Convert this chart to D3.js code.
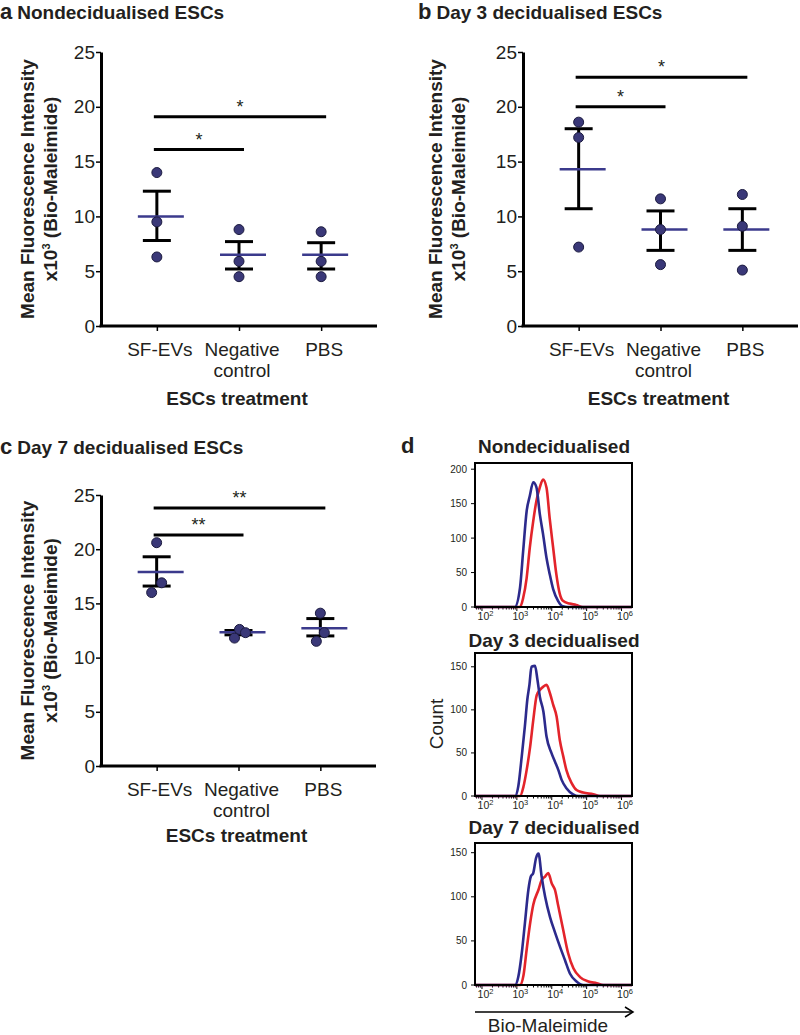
<!DOCTYPE html>
<html>
<head>
<meta charset="utf-8">
<script src="https://cdn.jsdelivr.net/npm/d3@7"></script>
<style>
  body { margin: 0; background: #fff; }
  text { font-family: Arial, "Liberation Sans", sans-serif; fill: #231f20; }
</style>
</head>
<body>
<svg id="fig" width="800" height="1035"></svg>
<script>
// treatment groups on the x axis
const groups = ["SF-EVs", "Negative control", "PBS"];
const yTickVals = [0, 5, 10, 15, 20, 25];

// panel a - nondecidualised ESCs (x10^3 MFI)
const aPoints = [[14.0, 9.5, 6.3], [8.8, 5.9, 4.5], [8.6, 5.9, 4.5]];
const aMeans = [10.0, 6.5, 6.5];
const aSemLow = [7.8, 5.2, 5.2];
const aSemHigh = [12.3, 7.7, 7.6];
const aSig = [[0, 1, 16.1, "*"], [0, 2, 19.1, "*"]];

// panel b - day 3 decidualised
const bPoints = [[18.6, 17.2, 7.2], [11.6, 8.8, 5.6], [12.0, 9.1, 5.1]];
const bMeans = [14.3, 8.8, 8.8];
const bSemLow = [10.7, 6.9, 6.9];
const bSemHigh = [18.0, 10.5, 10.7];
const bSig = [[0, 1, 20.0, "*"], [0, 2, 22.7, "*"]];

// panel c - day 7 decidualised
const cPoints = [[20.6, 16.9, 16.0], [12.6, 12.3, 11.8], [14.1, 12.3, 11.5]];
const cMeans = [17.9, 12.35, 12.7];
const cSemLow = [16.6, 12.1, 12.0];
const cSemHigh = [19.3, 12.5, 13.6];
const cSig = [[0, 1, 21.3, "**"], [0, 2, 23.8, "**"]];

// panel d - flow histograms, [log10 intensity, count]
const ndBlue = [[1.8,0],[2.94,0],[3.09,28],[3.18,81],[3.28,139],[3.37,161],[3.47,181],[3.56,174],[3.66,134],[3.75,106],[3.85,71],[3.94,48],[4.04,26],[4.18,9],[4.32,1],[4.45,0],[6.3,0]];
const ndRed = [[1.8,0],[3.09,0],[3.18,13],[3.28,42],[3.37,86],[3.47,125],[3.56,154],[3.66,174],[3.75,185],[3.85,173],[3.94,129],[4.04,86],[4.13,48],[4.23,19],[4.32,9],[4.51,5],[4.70,3],[4.89,0],[6.3,0]];
const d3Blue = [[1.8,0],[2.95,0],[3.04,11],[3.14,46],[3.23,81],[3.30,112],[3.36,129],[3.42,150],[3.52,151],[3.59,135],[3.66,115],[3.76,98],[3.85,69],[3.99,50],[4.09,40],[4.19,30],[4.28,19],[4.42,9],[4.61,2],[4.76,0],[6.3,0]];
const d3Red = [[1.8,0],[3.09,0],[3.19,11],[3.28,30],[3.38,57],[3.47,88],[3.57,117],[3.66,123],[3.76,127],[3.85,129],[3.95,119],[4.04,106],[4.14,92],[4.23,65],[4.33,46],[4.42,30],[4.57,15],[4.71,7],[4.90,4],[5.19,2],[5.38,0],[6.3,0]];
const d7Blue = [[1.8,0],[2.95,0],[3.04,9],[3.14,36],[3.23,70],[3.33,108],[3.40,123],[3.47,127],[3.55,144],[3.62,149],[3.71,123],[3.81,100],[3.95,77],[4.09,60],[4.24,43],[4.38,28],[4.52,13],[4.71,4],[4.90,0],[6.3,0]];
const d7Red = [[1.8,0],[3.09,0],[3.19,11],[3.28,40],[3.38,70],[3.47,91],[3.62,108],[3.71,119],[3.81,123],[3.90,127],[4.00,115],[4.09,108],[4.19,89],[4.33,62],[4.47,36],[4.62,19],[4.81,9],[5.05,4],[5.29,2],[5.48,0],[6.3,0]];

const svg = d3.select("#fig");
const dotFill = "#3a3878", meanColor = "#3b3a8c";
const fs = 19; // main font size
// small sideways shift of overlapping dots (px), panel c only
const cJitter = [[0, 5, -5], [1, 7, -4], [0, 4, -4]];

function scatterPanel(o) {
  const x = d3.scalePoint().domain(groups).range([o.x0, o.x1]).padding(0.68);
  const y = d3.scaleLinear().domain([0, 25]).range([o.yBot, o.yTop]);
  const g = svg.append("g");

  // title
  const t = g.append("text").attr("x", o.titleX).attr("y", o.titleY).attr("font-weight", "bold");
  t.append("tspan").attr("font-size", 22).text(o.letter);
  t.append("tspan").attr("font-size", fs).attr("dx", 5).text(o.title);

  // y axis
  const ya = g.append("g").attr("transform", `translate(${o.x0},0)`)
    .call(d3.axisLeft(y).tickValues(yTickVals).tickSize(5).tickSizeOuter(0).tickPadding(1));
  ya.select(".domain").attr("stroke", "#000").attr("stroke-width", 3);
  ya.selectAll(".tick line").attr("stroke", "#000").attr("stroke-width", 1.5);
  ya.selectAll(".tick text").attr("font-size", fs).attr("fill", "#231f20").attr("font-family", "Arial, 'Liberation Sans', sans-serif");

  // x axis
  const xa = g.append("g").attr("transform", `translate(0,${o.yBot})`)
    .call(d3.axisBottom(x).tickSize(5).tickSizeOuter(0).tickFormat(""));
  xa.select(".domain").attr("stroke", "#000").attr("stroke-width", 3).attr("d", `M${o.x0 - 1.5},0H${o.x1}`);
  xa.selectAll(".tick line").attr("stroke", "#000").attr("stroke-width", 1.5);

  groups.forEach(name => {
    const lab = g.append("text").attr("text-anchor", "middle").attr("font-size", fs)
      .attr("x", x(name) + 3).attr("y", o.yBot + 30);
    name.split(" ").forEach((w, j) => {
      lab.append("tspan").attr("x", x(name) + 3).attr("dy", j ? 21 : 0).text(w);
    });
  });
  g.append("text").attr("text-anchor", "middle").attr("font-size", fs).attr("font-weight", "bold")
    .attr("x", x(groups[1]) - 2).attr("y", o.yBot + o.xTitleGap).text("ESCs treatment");

  // y label
  const yl = g.append("text").attr("text-anchor", "middle").attr("font-size", fs).attr("font-weight", "bold")
    .attr("transform", `translate(${o.labX},${(o.yTop + o.yBot) / 2}) rotate(-90)`);
  yl.append("tspan").attr("x", 0).attr("y", 0).text("Mean Fluorescence Intensity");
  const l2 = yl.append("tspan").attr("x", 0).attr("y", 23);
  l2.append("tspan").text("x10");
  l2.append("tspan").attr("font-size", 11).attr("dy", -7).text("3");
  l2.append("tspan").attr("dy", 7).text(" (Bio-Maleimide)");

  // error bars and mean lines
  groups.forEach((name, i) => {
    const cx = x(name);
    g.append("line").attr("x1", cx).attr("x2", cx).attr("y1", y(o.lo[i])).attr("y2", y(o.hi[i]))
      .attr("stroke", "#000").attr("stroke-width", 3);
    [o.lo[i], o.hi[i]].forEach(v => {
      g.append("line").attr("x1", cx - 14).attr("x2", cx + 14).attr("y1", y(v)).attr("y2", y(v))
        .attr("stroke", "#000").attr("stroke-width", 3);
    });
    g.append("line").attr("x1", cx - 19).attr("x2", cx + 27).attr("y1", y(o.means[i])).attr("y2", y(o.means[i]))
      .attr("stroke", meanColor).attr("stroke-width", 2.5);
  });

  // dots
  groups.forEach((name, i) => {
    g.selectAll(null).data(o.points[i]).join("circle")
      .attr("cx", (d, j) => x(name) + (o.jitter ? o.jitter[i][j] : 0))
      .attr("cy", d => y(d)).attr("r", 5)
      .attr("fill", dotFill).attr("stroke", "#1c1b3f").attr("stroke-width", 1);
  });

  // significance bars
  o.sig.forEach(([a, b, v, s]) => {
    const xa0 = x(groups[a]) - 3, xb = x(groups[b]) + 5;
    g.append("line").attr("x1", xa0).attr("x2", xb).attr("y1", y(v)).attr("y2", y(v))
      .attr("stroke", "#000").attr("stroke-width", 3);
    g.append("text").attr("text-anchor", "middle").attr("font-size", 18)
      .attr("x", (xa0 + xb) / 2).attr("y", y(v) - 4).text(s);
  });
}

scatterPanel({letter: "a", title: "Nondecidualised ESCs", titleX: 0, titleY: 19,
  x0: 101, x1: 377, yTop: 52, yBot: 326, labX: 34, xTitleGap: 79,
  points: aPoints, means: aMeans, lo: aSemLow, hi: aSemHigh, sig: aSig});
scatterPanel({letter: "b", title: "Day 3 decidualised ESCs", titleX: 418, titleY: 19,
  x0: 523, x1: 798, yTop: 52, yBot: 326, labX: 442, xTitleGap: 79,
  points: bPoints, means: bMeans, lo: bSemLow, hi: bSemHigh, sig: bSig});
scatterPanel({letter: "c", title: "Day 7 decidualised ESCs", titleX: 0, titleY: 454,
  x0: 101, x1: 376, yTop: 495, yBot: 766, labX: 34, xTitleGap: 76,
  points: cPoints, means: cMeans, lo: cSemLow, hi: cSemHigh, sig: cSig, jitter: cJitter});

// panel d
svg.append("text").attr("x", 401).attr("y", 453).attr("font-size", 22).attr("font-weight", "bold").text("d");

const hx = d3.scaleLog().domain([10 ** 1.8, 10 ** 6.3]).range([475, 632]);

function histPanel(o) {
  const y = d3.scaleLinear().domain([0, o.yMax]).range([o.bot, o.top]);
  const g = svg.append("g");
  g.append("text").attr("text-anchor", "middle").attr("font-size", fs).attr("font-weight", "bold")
    .attr("x", 554).attr("y", o.titleY).text(o.title);

  // minor and major x ticks
  const minor = hx.ticks().filter(v => v >= 10 ** 1.8);
  g.selectAll(null).data(minor).join("line")
    .attr("x1", d => hx(d)).attr("x2", d => hx(d)).attr("y1", o.bot)
    .attr("y2", d => o.bot + (Math.abs(Math.log10(d) % 1) < 1e-6 ? 4 : 2.5))
    .attr("stroke", "#000").attr("stroke-width", 1);
  [2, 3, 4, 5, 6].forEach(e => {
    const t = g.append("text").attr("text-anchor", "middle").attr("font-size", 10.5).attr("fill", "#444")
      .attr("x", hx(10 ** e) + 3.5).attr("y", o.bot + 13);
    t.append("tspan").text("10");
    t.append("tspan").attr("font-size", 7.5).attr("dy", -4).text(e);
  });

  // y ticks
  o.yTicks.forEach(v => {
    g.append("line").attr("x1", 471).attr("x2", 475).attr("y1", y(v)).attr("y2", y(v))
      .attr("stroke", "#000").attr("stroke-width", 1);
    g.append("text").attr("text-anchor", "end").attr("font-size", 10).attr("fill", "#444")
      .attr("x", 467).attr("y", y(v) + 3.5).text(v);
  });

  const line = d3.line().x(d => hx(10 ** d[0])).y(d => y(d[1])).curve(d3.curveMonotoneX);
  g.append("path").datum(o.red).attr("d", line).attr("fill", "none")
    .attr("stroke", "#e3242b").attr("stroke-width", 2.6);
  g.append("path").datum(o.blue).attr("d", line).attr("fill", "none")
    .attr("stroke", "#2c2a8c").attr("stroke-width", 2.6);

  g.append("rect").attr("x", 475).attr("y", o.top).attr("width", 157).attr("height", o.bot - o.top)
    .attr("fill", "none").attr("stroke", "#000").attr("stroke-width", 2);
}

histPanel({title: "Nondecidualised", titleY: 453, top: 463, bot: 607, yMax: 209,
  yTicks: [0, 50, 100, 150, 200], blue: ndBlue, red: ndRed});
histPanel({title: "Day 3 decidualised", titleY: 647, top: 653, bot: 796, yMax: 166,
  yTicks: [0, 50, 100, 150], blue: d3Blue, red: d3Red});
histPanel({title: "Day 7 decidualised", titleY: 834, top: 843, bot: 985, yMax: 161,
  yTicks: [0, 50, 100, 150], blue: d7Blue, red: d7Red});

svg.append("text").attr("text-anchor", "middle").attr("font-size", fs)
  .attr("transform", "translate(443,724) rotate(-90)").text("Count");

// arrow under the last histogram
svg.append("line").attr("x1", 475).attr("x2", 632).attr("y1", 1012).attr("y2", 1012)
  .attr("stroke", "#000").attr("stroke-width", 1.5);
svg.append("path").attr("d", "M625,1007L633,1012L625,1017").attr("fill", "none")
  .attr("stroke", "#000").attr("stroke-width", 1.5);
svg.append("text").attr("text-anchor", "middle").attr("font-size", fs)
  .attr("x", 548).attr("y", 1032).text("Bio-Maleimide");
</script>
</body>
</html>
